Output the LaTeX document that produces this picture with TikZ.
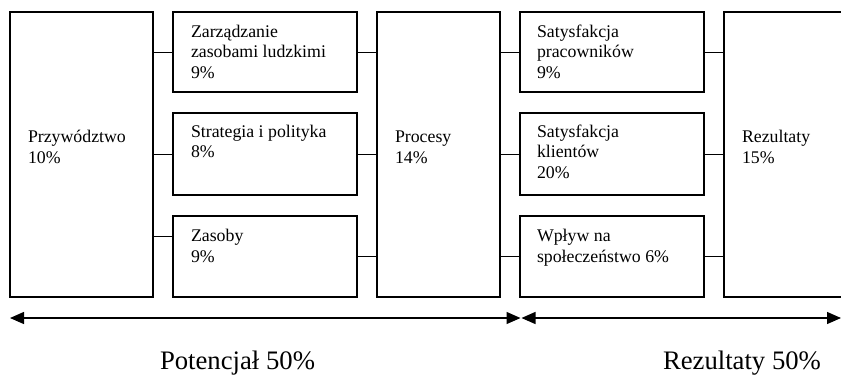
\documentclass[tikz,border=0pt]{standalone}
\usepackage{fontspec}
\setmainfont{Liberation Serif}
\usetikzlibrary{calc,arrows.meta}
\begin{document}
\begin{tikzpicture}[x=1pt,y=-1pt,
  box/.style={draw, line width=1.3pt, inner sep=0pt, outer sep=0pt, anchor=north west},
  conn/.style={line width=1pt},
  lbl/.style={inner sep=0pt, outer sep=0pt, anchor=north west, align=left,
    font=\fontsize{17.8pt}{20.5pt}\selectfont},
  big/.style={inner sep=0pt, outer sep=0pt, anchor=base west,
    font=\fontsize{26.7pt}{30pt}\selectfont},
  span/.style={line width=1.3pt,
    {Triangle[length=14pt,width=12pt]}-{Triangle[length=14pt,width=12pt]}}]
\useasboundingbox (0,0) rectangle (841,376);
\clip (0,0) rectangle (841,376);
\def\fs{\rule{0pt}{14.35pt}}
% boxes
\node[box, minimum width=143pt, minimum height=285pt] (P) at (10,12) {};
\node[box, minimum width=184pt, minimum height=80pt] (Z) at (173,12) {};
\node[box, minimum width=184pt, minimum height=82pt] (S) at (173,113) {};
\node[box, minimum width=184pt, minimum height=81pt] (Zs) at (173,216) {};
\node[box, minimum width=123pt, minimum height=285pt] (Pr) at (377,12) {};
\node[box, minimum width=184pt, minimum height=80pt] (SP) at (520,12) {};
\node[box, minimum width=184pt, minimum height=82pt] (SK) at (520,113) {};
\node[box, minimum width=184pt, minimum height=81pt] (W) at (520,216) {};
\node[box, minimum width=160pt, minimum height=285pt] (R) at (724,12) {};
% labels
\node[lbl] (tP) at ($(P.north west)+(18,116.3)$) {\fs Przywództwo\\10\%};
\node[lbl] (tZ) at ($(Z.north west)+(18,10.65)$) {\fs Zarządzanie\\zasobami ludzkimi\\9\%};
\node[lbl] (tS) at ($(S.north west)+(18,9.8)$) {\fs Strategia i polityka\\8\%};
\node[lbl] (tZs) at ($(Zs.north west)+(18,11.2)$) {\fs Zasoby\\9\%};
\node[lbl] (tPr) at ($(Pr.north west)+(18,116.3)$) {\fs Procesy\\14\%};
\node[lbl] (tSP) at ($(SP.north west)+(17,10.65)$) {\fs Satysfakcja\\pracowników\\9\%};
\node[lbl] (tSK) at ($(SK.north west)+(17,9.8)$) {\fs Satysfakcja\\klientów\\20\%};
\node[lbl] (tW) at ($(W.north west)+(17,11.2)$) {\fs Wpływ na\\społeczeństwo 6\%};
\node[lbl] (tR) at ($(R.north west)+(18,116.3)$) {\fs Rezultaty\\15\%};
% connectors
\coordinate (r1) at (0,52);
\coordinate (r2) at (0,154);
\coordinate (r3) at (0,236);
\coordinate (r4) at (0,256);
\draw[conn] (P.east |- r1) -- (Z.west |- r1);
\draw[conn] (P.east |- r2) -- (S.west |- r2);
\draw[conn] (P.east |- r3) -- (Zs.west |- r3);
\draw[conn] (Z.east |- r1) -- (Pr.west |- r1);
\draw[conn] (S.east |- r2) -- (Pr.west |- r2);
\draw[conn] (Zs.east |- r4) -- (Pr.west |- r4);
\draw[conn] (Pr.east |- r1) -- (SP.west |- r1);
\draw[conn] (Pr.east |- r2) -- (SK.west |- r2);
\draw[conn] (Pr.east |- r4) -- (W.west |- r4);
\draw[conn] (SP.east |- r1) -- (R.west |- r1);
\draw[conn] (SK.east |- r2) -- (R.west |- r2);
\draw[conn] (W.east |- r4) -- (R.west |- r4);
% spans
\coordinate (a1) at (10,318);
\coordinate (a2) at (520.5,318);
\coordinate (a3) at (521.5,318);
\coordinate (a4) at (841,318);
\draw[span] (a1) -- (a2);
\draw[span] (a3) -- (a4);
\node[big] (pot) at (160,369.5) {Potencjał 50\%};
\node[big] (rez) at (663,369.5) {Rezultaty 50\%};
\end{tikzpicture}
\end{document}
